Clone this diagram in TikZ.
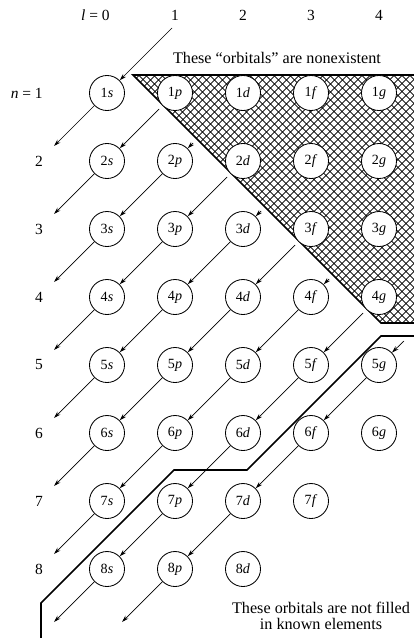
\documentclass[tikz,border=0pt]{standalone}
\usepackage{fontspec}
\setmainfont{Liberation Serif}
\usetikzlibrary{arrows.meta,patterns.meta,calc}

\begin{document}
\begin{tikzpicture}[x=0.025cm, y=-0.025cm, >=Stealth,
    font=\fontsize{10}{12}\selectfont,
    orb/.style={circle, draw, fill=white, line width=0.6pt,
                minimum size=0.875cm, inner sep=0pt},
    arr/.style={-{Stealth[length=5pt,width=3pt]}, line width=0.5pt},
    bound/.style={line width=1.2pt, line join=miter},
    lab/.style={font=\fontsize{11}{13}\selectfont, inner sep=0pt},
    note/.style={font=\fontsize{11.5}{11}\selectfont, align=center}
  ]
  \useasboundingbox (0,0) rectangle (414,638);

  % nonexistent orbitals
  \foreach \a in {45,-45}
    \fill[pattern={Lines[angle=\a, distance=4pt, line width=0.6pt]}]
      (133,75) -- (414,75) -- (414,323) -- (381,323) -- cycle;
  \draw[bound] (414,75) -- (133,75) -- (381,323) -- (414,323);

  % orbitals not filled
  \draw[bound] (41,638) -- (41,603) -- (174,470) -- (247,470)
    -- (381,336) -- (414,336);

  % orbital circles
  \foreach \n/\lst in {1/{s,p,d,f,g},2/{s,p,d,f,g},3/{s,p,d,f,g},
      4/{s,p,d,f,g},5/{s,p,d,f,g},6/{s,p,d,f,g},7/{s,p,d,f},8/{s,p,d}}
    \foreach \c [count=\l from 0] in \lst
      \node[orb] (o\n\c) at ({107+68*\l},{93+68*(\n-1)}) {\n\textit{\c}};

  % axis labels
  \node[lab, anchor=east] (lzero) at (110,15) {\textit{l} = 0};
  \foreach \l in {1,...,4}
    \node[lab] (lcol\l) at ({107+68*\l},15) {\l};
  \node[lab, anchor=east] (nrow1) at (43,93) {\textit{n} = 1};
  \foreach \n in {2,...,8}
    \node[lab] (nrow\n) at (39,{93+68*(\n-1)}) {\n};

  % filling order
  \coordinate (st1) at (172,28);
  \foreach \k in {2,...,8}
    \coordinate (st\k) at ({125+34*(\k-1)},{75+34*(\k-1)});
  \coordinate (st9) at (404,341);

  \foreach \a/\b in {st1/o1s,st2/o2s,st3/o2p,st4/o3p,st5/o3d,st6/o4d,
      st7/o4f,st8/o5f,st9/o5g,o2p/o3s,o3p/o4s,o3d/o4p,o4p/o5s,o4d/o5p,
      o5p/o6s,o4f/o5d,o5d/o6p,o6p/o7s,o5f/o6d,o6d/o7p,o7p/o8s,
      o5g/o6f,o6f/o7d,o7d/o8p}
    \draw[arr] (\a) -- (\b);

  \foreach \b in {1s,2s,3s,4s,5s,6s,7s,8s,8p}{
    \coordinate (en\b) at ($(o\b)+(-53,53)$);
    \draw[arr] (o\b) -- (en\b);
  }

  \node[note] (nonex) at (277,58) {These ``orbitals'' are nonexistent};
  \node[note] (unfill) at (321,616) {These orbitals are not filled\\
    in known elements};
\end{tikzpicture}
\end{document}
